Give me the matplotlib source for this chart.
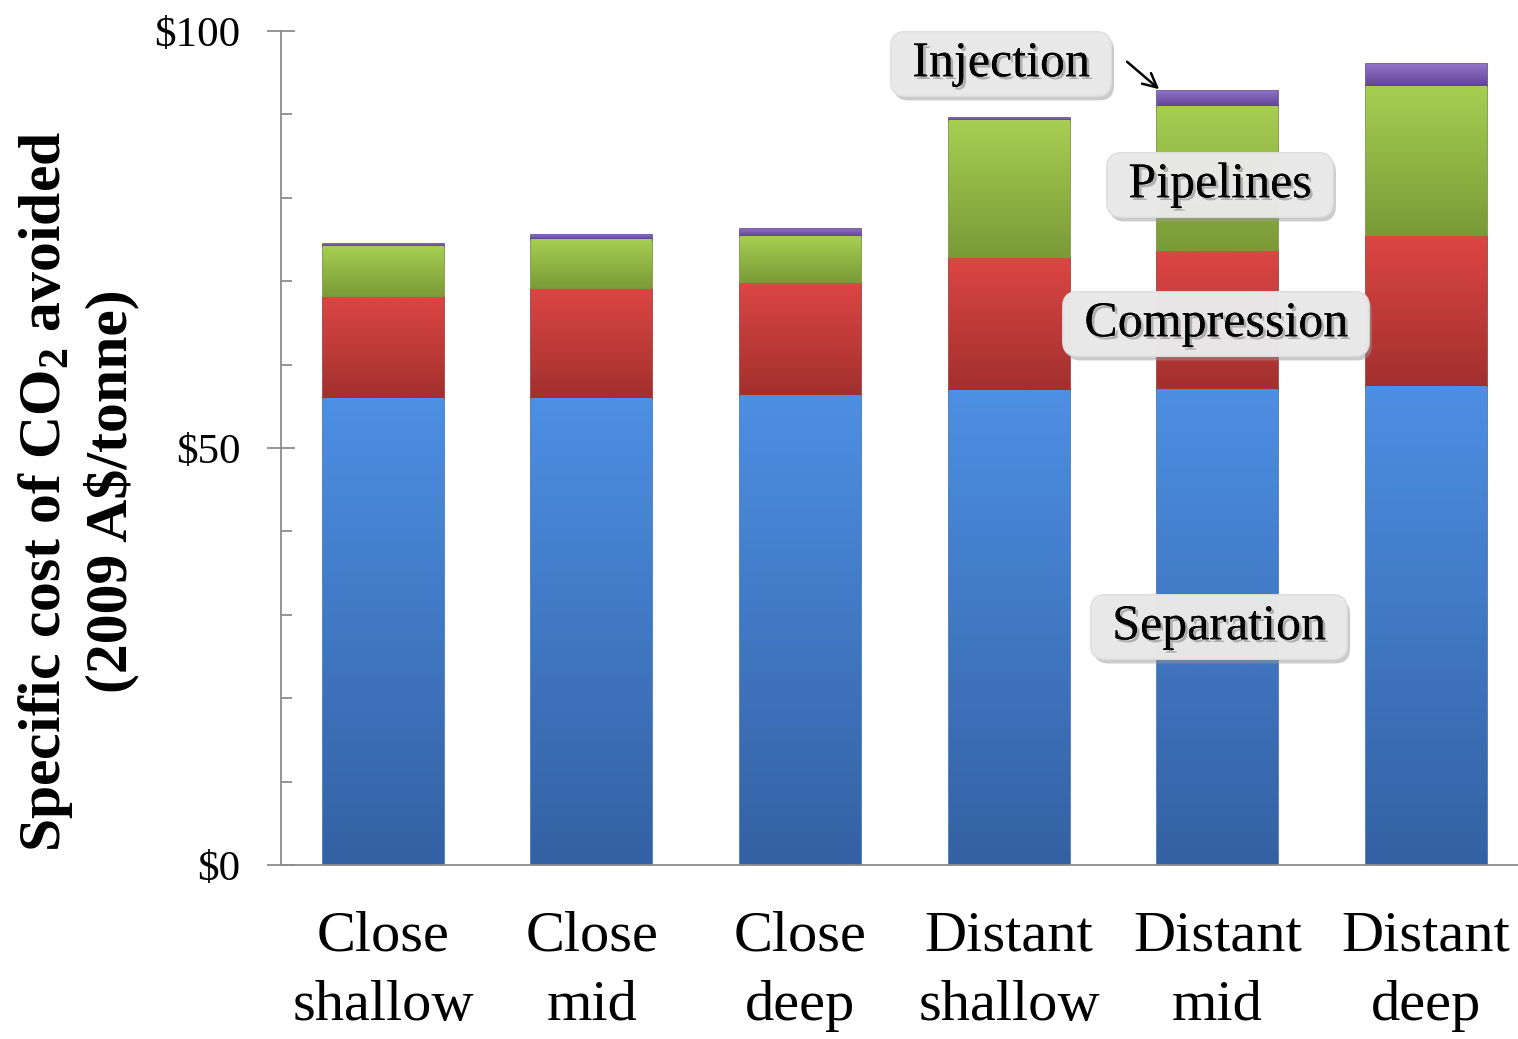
import numpy as np
import matplotlib
matplotlib.use("Agg")
import matplotlib.pyplot as plt
import matplotlib.patheffects as pe
from matplotlib.colors import to_rgb

categories = ["Close\nshallow", "Close\nmid", "Close\ndeep",
              "Distant\nshallow", "Distant\nmid", "Distant\ndeep"]
separation = [56.0, 56.0, 56.3, 56.9, 57.1, 57.4]
compression = [12.1, 13.1, 13.5, 15.9, 16.5, 18.0]
pipelines = [6.1, 5.9, 5.6, 16.5, 17.4, 18.0]
injection = [0.3, 0.5, 0.9, 0.3, 1.8, 2.6]
series_names = ["Separation", "Compression", "Pipelines", "Injection"]
yticks = [0, 50, 100]
yticklabels = ["$0", "$50", "$100"]

top_colors = ["#4d8fe3", "#dc4643", "#a6cf52", "#9072c8"]
bot_colors = ["#3461a3", "#a2302e", "#7a9a36", "#634596"]
edge_colors = ["#3a6cb0", "#9a3230", "#728f36", "#5e4690"]

plt.rcParams["font.family"] = ["Liberation Serif", "DejaVu Serif"]
plt.rcParams["mathtext.default"] = "regular"

fig = plt.figure(figsize=(15.18, 10.39), dpi=100)
ax = fig.add_axes([281/1518, 1-865/1039, 1-281/1518, (865-31)/1039])

x = np.arange(len(categories))
width = 0.58
bottoms = np.zeros(len(categories))
all_series = [separation, compression, pipelines, injection]
for vals, tc, bc, ec in zip(all_series, top_colors, bot_colors, edge_colors):
    vals = np.array(vals)
    bars = ax.bar(x, vals, width, bottom=bottoms, color=tc, edgecolor=ec,
                  linewidth=1.2, zorder=2)
    t = np.array(to_rgb(tc)); b = np.array(to_rgb(bc))
    grad = np.linspace(0, 1, 64)[:, None, None]
    img = t[None, None, :] * (1 - grad) + b[None, None, :] * grad
    for p in bars:
        x0, y0 = p.get_x(), p.get_y()
        w, h = p.get_width(), p.get_height()
        im = ax.imshow(img, extent=[x0, x0 + w, y0, y0 + h], origin="upper",
                       aspect="auto", zorder=2.5, interpolation="bilinear")
        im.set_clip_path(p)
    bottoms = bottoms + vals

ax.set_xlim(-0.49, 5.44)
ax.set_ylim(0, 100)

for s in ["top", "right"]:
    ax.spines[s].set_visible(False)
for s in ["left", "bottom"]:
    ax.spines[s].set_color("#8c8c8c")
    ax.spines[s].set_linewidth(1.3)

ax.set_yticks(yticks)
ax.set_yticklabels(yticklabels, fontsize=31)
ax.set_yticks(np.arange(0, 101, 10), minor=True)
ax.tick_params(axis="y", which="major", direction="inout", length=20,
               width=1.3, color="#8c8c8c", pad=19)
ax.tick_params(axis="y", which="minor", direction="in", length=8,
               width=1.3, color="#8c8c8c")
ax.set_xticks(x)
ax.set_xticklabels(categories, fontsize=42, linespacing=1.42)
ax.tick_params(axis="x", length=0, pad=33)

fig.text(78/1518, 1-491/1039,
         "Specific cost of CO$_2$ avoided\n(2009 A\\$/tonne)",
         rotation=90, ha="center", va="center", fontsize=43,
         fontweight="bold", multialignment="center", linespacing=1.2)

shadow_txt = [pe.withSimplePatchShadow(offset=(2, -2), shadow_rgbFace="#888888", alpha=0.6), pe.Normal()]

def label(txt, xd, yd):
    t = fig.text(xd/1518, 1-yd/1039, "\u00a0" + txt + "\u00a0", ha="center", va="center",
                 fontsize=36, zorder=10,
                 bbox=dict(boxstyle="round,pad=0.18,rounding_size=0.3",
                           fc="#e9e9e9", ec="#dddddd", alpha=0.85))
    t.set_path_effects(shadow_txt)
    t.get_bbox_patch().set_path_effects(
        [pe.withSimplePatchShadow(offset=(2, -3), shadow_rgbFace="#999999", alpha=0.5), pe.Normal()])
    return t

label("Injection", 1001, 64)
label("Pipelines", 1220, 185)
label("Compression", 1216, 324)
label("Separation", 1219, 627)

ax.annotate("", xy=(x[4] - width/2 + 0.02, bottoms[4]),
            xytext=(1125/1518, 1-60/1039), textcoords="figure fraction",
            arrowprops=dict(arrowstyle="->", color="black", lw=1.8,
                            mutation_scale=25), zorder=11)

fig.savefig("out.png", dpi=100)
